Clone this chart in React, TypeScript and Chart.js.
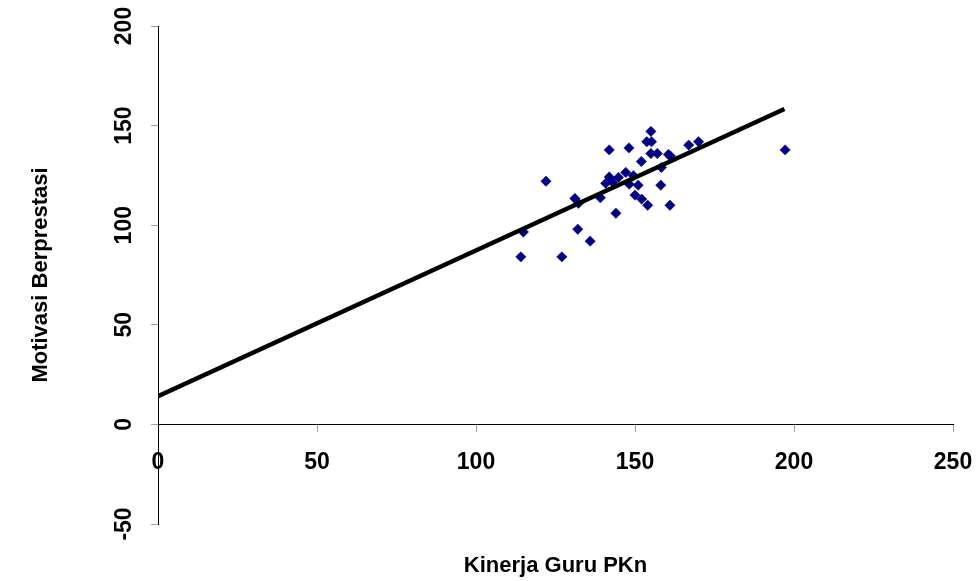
import React, { useEffect, useRef } from "react";
import { Chart, registerables } from "chart.js";

Chart.register(...registerables);

// Kinerja Guru PKn (x) and Motivasi Berprestasi (y)
const kinerjaGuru = [
  155.0, 153.7, 155.2, 141.9, 148.1, 166.9, 170.0, 155.0, 157.0, 160.5,
  161.2, 152.0, 158.3, 122.0, 141.9, 144.8, 147.1, 149.5, 140.8, 148.2,
  151.0, 158.1, 131.1, 132.2, 139.1, 150.0, 152.1, 154.0, 161.0, 144.0,
  132.0, 114.9, 135.9, 114.1, 127.0, 197.2, 143.0,
];
const motivasi = [
  147.1, 141.9, 141.9, 137.8, 138.8, 140.2, 141.9, 136.0, 136.0, 135.5,
  134.6, 132.0, 129.0, 122.1, 124.2, 124.0, 126.5, 124.8, 121.0, 120.6,
  120.1, 120.1, 113.4, 111.0, 113.8, 115.1, 113.1, 110.0, 110.0, 106.0,
  98.0, 96.6, 92.0, 84.1, 84.1, 137.8, 121.5,
];

// Regression line end points
const trendX = [0, 197];
const trendY = [14.1, 158.3];

const xTicks = [0, 50, 100, 150, 200, 250];
const yTicks = [-50, 0, 50, 100, 150, 200];

const xTitle = "Kinerja Guru PKn";
const yTitle = "Motivasi Berprestasi";

export default function App() {
  const ref = useRef<HTMLCanvasElement>(null);

  useEffect(() => {
    const FONT = "'Liberation Sans', Arial, Helvetica, sans-serif";
    const chart = new Chart(ref.current as HTMLCanvasElement, {
      type: "scatter",
      data: {
        datasets: [
          {
            label: "Regresi",
            data: trendX.map((x, i) => ({ x, y: trendY[i] })),
            showLine: true,
            borderColor: "#000",
            backgroundColor: "#000",
            borderWidth: 4.5,
            pointRadius: 0,
            order: 0,
          },
          {
            label: "Data",
            data: kinerjaGuru.map((x, i) => ({ x, y: motivasi[i] })),
            pointStyle: "rectRot",
            pointRadius: 5.2,
            backgroundColor: "#000080",
            borderColor: "#000080",
            borderWidth: 0.5,
            order: 1,
          },
        ],
      },
      options: {
        animation: false,
        responsive: false,
        layout: { padding: { left: 0, top: 26, right: 23, bottom: 0 } },
        plugins: {
          legend: { display: false },
          tooltip: { enabled: false },
          title: {
            display: true,
            position: "bottom",
            fullSize: false,
            text: xTitle,
            color: "#000",
            font: { family: FONT, size: 22, weight: "bold" },
            padding: { top: 29, bottom: 1.6 },
          },
        },
        scales: {
          x: {
            type: "linear",
            min: 0,
            max: 250,
            position: { y: 0 },
            afterBuildTicks: (s: any) => {
              s.ticks = xTicks.map((v) => ({ value: v }));
            },
            afterFit: (s: any) => {
              s.paddingLeft = 0;
              s.paddingRight = 0;
            },
            ticks: {
              color: "#000",
              font: { family: FONT, size: 23, weight: "bold" },
              padding: 17,
              maxRotation: 0,
              autoSkip: false,
            },
            grid: { drawOnChartArea: false, color: "#a0a0a0", tickLength: 7 },
            border: { color: "#000", width: 1 },
          },
          y: {
            type: "linear",
            min: -50,
            max: 200,
            position: "left",
            afterBuildTicks: (s: any) => {
              s.ticks = yTicks.map((v) => ({ value: v }));
            },
            afterFit: (s: any) => {
              s.width = 158;
              s.paddingTop = 0;
              s.paddingBottom = 0;
            },
            ticks: {
              color: "#000",
              font: { family: FONT, size: 23, weight: "bold" },
              padding: 7,
              minRotation: 90,
              maxRotation: 90,
              crossAlign: "center",
              autoSkip: false,
            },
            grid: { drawOnChartArea: false, color: "#a0a0a0", tickLength: 7 },
            border: { color: "#000", width: 1 },
            title: {
              display: true,
              text: yTitle,
              color: "#000",
              font: { family: FONT, size: 22, weight: "bold" },
              padding: { top: 27.3, bottom: 0 },
            },
          },
        },
      } as any,
    });
    return () => chart.destroy();
  }, []);

  return (
    <div style={{ position: "absolute", left: 0, top: 0, width: 976, height: 581 }}>
      <canvas ref={ref} width={976} height={581} style={{ display: "block" }} />
    </div>
  );
}
